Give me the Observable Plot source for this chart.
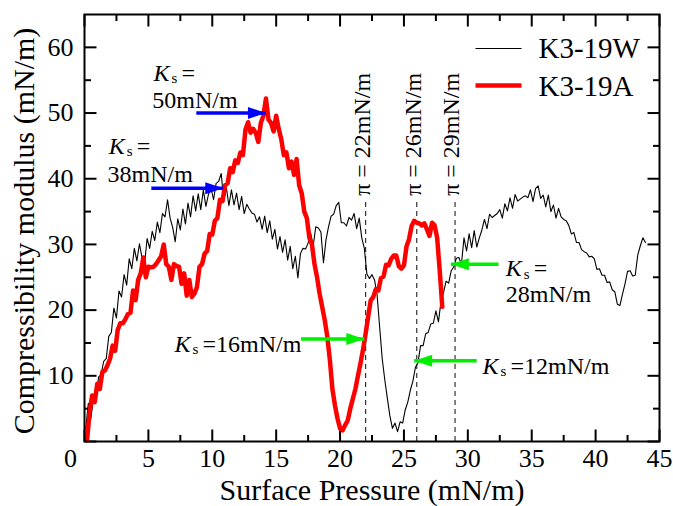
<!DOCTYPE html>
<html><head><meta charset="utf-8">
<script src="https://cdn.jsdelivr.net/npm/d3@7"></script>
<script src="https://cdn.jsdelivr.net/npm/@observablehq/plot@0.6"></script>
<style>body{margin:0;background:#fff} svg{display:block}</style>
</head><body><div id="chart"></div>
<script>
// ---------- data ----------
const seriesNames = ["K3-19W", "K3-19A"];

// K3-19W : sampled every 0.2 mN/m starting at 0.1
const wStart = 0.1, wStep = 0.2;
const wValues = [
  2.0,5.8,3.5,6.6,6.4,9.8,10.2,12.2,12.6,16.0,
  16.6,20.3,18.8,22.9,22.0,25.4,23.8,27.8,26.3,29.4,
  27.5,30.1,28.0,27.0,30.9,29.4,32.0,30.6,33.4,31.8,
  34.7,34.2,36.8,34.0,32.6,30.4,33.9,32.2,35.4,33.1,
  36.3,34.2,37.4,35.1,37.7,35.3,38.3,35.8,37.6,38.6,
  36.8,39.3,39.6,40.8,36.6,38.7,35.9,38.3,36.0,37.8,
  35.3,37.3,34.7,36.1,35.4,34.8,34.6,33.4,34.2,32.3,
  34.3,31.8,33.6,30.8,32.3,29.3,31.2,28.8,30.7,27.6,
  29.7,26.3,28.2,24.9,28.6,29.4,29.3,30.2,31.7,29.8,
  32.7,32.5,31.9,27.2,30.7,32.7,34.3,34.6,35.9,36.4,
  33.3,33.3,32.8,34.1,33.7,34.7,32.4,34.0,31.0,29.4,
  25.5,24.8,25.4,24.6,22.3,17.4,12.6,9.4,6.6,3.9,
  2.0,2.8,1.5,3.0,2.8,4.8,6.0,7.8,9.2,11.3,
  12.0,14.6,14.6,16.4,16.6,17.9,18.0,19.9,18.2,21.3,
  22.7,24.4,24.1,26.0,26.6,27.9,28.0,27.0,31.0,29.0,
  31.6,29.5,32.1,29.6,31.0,32.2,33.8,32.4,34.6,34.1,
  34.4,34.7,35.3,34.0,36.2,35.1,37.1,35.5,37.6,36.6,
  36.9,37.2,37.4,37.1,38.3,36.5,38.5,38.9,37.0,37.5,
  35.7,37.5,35.0,36.0,34.0,35.5,34.2,33.8,33.6,32.9,
  31.6,31.8,30.3,30.3,29.2,28.9,28.7,28.1,28.2,27.8,
  26.2,26.3,25.3,25.3,24.2,24.3,23.1,22.8,20.9,20.7,
  22.4,24.0,25.9,26.0,25.2,25.3,28.4,29.8,31.0,30.3
];

// K3-19A : sampled every 0.2 mN/m starting at 0.2
const aStart = 0.2, aStep = 0.2;
const aValues = [
  0.2,4.5,7.0,6.0,8.8,8.0,10.6,10.8,11.6,12.6,
  14.6,13.8,17.0,18.0,18.0,18.6,19.4,19.6,23.0,21.5,
  24.6,25.6,28.0,25.0,26.6,26.5,26.6,27.0,27.6,28.2,
  30.0,27.0,26.6,24.6,27.0,26.7,26.6,24.0,25.6,22.2,
  24.6,22.0,22.5,23.5,26.6,27.0,28.6,29.0,31.6,31.5,
  33.6,34.0,36.8,36.6,39.0,39.3,41.6,41.0,42.8,42.4,
  44.0,43.6,47.5,48.6,47.0,47.6,47.0,45.6,48.5,49.6,
  52.2,49.0,48.5,47.2,49.6,47.6,46.0,43.6,44.0,41.6,
  42.6,40.6,43.0,39.0,37.8,35.0,34.0,31.0,30.0,27.0,
  25.0,22.5,20.5,18.5,16.0,12.5,8.0,5.5,3.5,2.0,
  1.7,2.5,3.2,5.0,6.5,8.0,10.0,11.9,14.0,16.4,
  19.0,21.5,22.0,23.2,23.0,24.9,25.1,26.9,26.8,27.8,
  28.3,28.3,26.7,26.3,26.8,29.7,30.8,32.8,33.6,33.3,
  33.2,32.9,33.2,32.3,31.3,33.3,32.9,31.0,26.0,20.5
];

// axes
const xLabelTicks = [5, 10, 15, 20, 25, 30, 35, 40, 45];
const xOriginLabel = [0];
const xMajorTicks = [0, 5, 10, 15, 20, 25, 30, 35, 40, 45];
const xMinorTicks = [2.5, 7.5, 12.5, 17.5, 22.5, 27.5, 32.5, 37.5, 42.5];
const yLabelTicks = [10, 20, 30, 40, 50, 60];
const yMajorTicks = [0, 10, 20, 30, 40, 50, 60];
const yMinorTicks = [5, 15, 25, 35, 45, 55];
const xTitle = "Surface Pressure (mN/m)";
const yTitle = "Compressibility modulus (mN/m)";

// transition pressures
const piValues = [22, 26, 29];
const piLineTop = 37;
const piLabelY = 37.4;

// K_s annotations
const ksLabelX = [5.4, 1.9, 7.05, 31.15, 32.97];
const ksLabelY = [56.0, 45.0, 14.8, 11.5, 26.3];
const ksLabelRest = ["=", "=", "=16mN/m", "=12mN/m", "="];
const ksValueX = [5.3, 1.8, 32.97];
const ksValueY = [52.0, 40.7, 22.4];
const ksValueText = ["50mN/m", "38mN/m", "28mN/m"];

// arrows
const arrowX1 = [8.75, 5.23, 16.95, 30.7, 32.4];
const arrowX2 = [14.2, 10.86, 21.9, 25.8, 28.67];
const arrowY = [50.0, 38.55, 15.6, 12.3, 27.0];
const arrowKind = ["peak", "peak", "transition", "transition", "transition"];

// ---------- build ----------
const W = wValues.map((v, i) => ({x: +(wStart + i * wStep).toFixed(2), y: v}));
const A = aValues.map((v, i) => ({x: +(aStart + i * aStep).toFixed(2), y: v}));
const ksLabels = ksLabelX.map((x, i) => ({x, y: ksLabelY[i], rest: ksLabelRest[i]}));
const ksVals = ksValueX.map((x, i) => ({x, y: ksValueY[i], text: ksValueText[i]}));
const arrows = arrowX1.map((x1, i) => ({x1, x2: arrowX2[i], y: arrowY[i], kind: arrowKind[i]}));

const BLUE = "#0000ff", GREEN = "#00ee00", RED = "#ff0000";
const FONT = "'Liberation Serif', 'Times New Roman', serif";

const seg = (dx, dy) => ({draw(ctx) { ctx.moveTo(0, 0); ctx.lineTo(dx, dy); }});
const hline = (len) => ({draw(ctx) { ctx.moveTo(-len / 2, 0); ctx.lineTo(len / 2, 0); }});
const head = {draw(ctx) { ctx.moveTo(0, 0); ctx.lineTo(-18, -6); ctx.lineTo(-18, 6); ctx.closePath(); }};
const arrowColor = d => d.kind === "peak" ? BLUE : GREEN;

const tickMarks = (vals, dim, anchor, sym, w) =>
  Plot.dot(vals, {[dim]: d => d, frameAnchor: anchor, symbol: sym, stroke: "black", fill: "none", strokeWidth: w});

const chart = Plot.plot({
  width: 673, height: 506,
  marginLeft: 84, marginRight: 14, marginTop: 14, marginBottom: 65,
  x: {domain: [0, 45]},
  y: {domain: [0, 65]},
  style: {fontFamily: FONT, background: "white", color: "black"},
  marks: [
    Plot.axisX({ticks: xLabelTicks, tickSize: 0, tickPadding: 7, fontSize: 26, label: null, tickFormat: d => String(d)}),
    Plot.axisY({ticks: yLabelTicks, tickSize: 0, tickPadding: 11, fontSize: 26, label: null, tickFormat: d => String(d)}),
    Plot.text(xOriginLabel, {x: d => d, frameAnchor: "bottom", dx: -14, dy: 7, lineAnchor: "top", fontSize: 26, text: d => String(d)}),
    Plot.text([xTitle], {frameAnchor: "bottom", dy: 49, textAnchor: "middle", lineAnchor: "middle", fontSize: 30, text: d => d}),
    Plot.text([yTitle], {frameAnchor: "left", dx: -60, dy: 3, rotate: -90, textAnchor: "middle", lineAnchor: "middle", fontSize: 30, text: d => d}),

    // ticks (inward)
    tickMarks(xMajorTicks, "x", "bottom", seg(0, -12), 2),
    tickMarks(xMinorTicks, "x", "bottom", seg(0, -6.5), 2),
    tickMarks(xMajorTicks, "x", "top", seg(0, 12), 2),
    tickMarks(xMinorTicks, "x", "top", seg(0, 6.5), 2),
    tickMarks(yMajorTicks, "y", "left", seg(12, 0), 2),
    tickMarks(yMinorTicks, "y", "left", seg(6.5, 0), 2),
    tickMarks(yMajorTicks, "y", "right", seg(-12, 0), 2),
    tickMarks(yMinorTicks, "y", "right", seg(-6.5, 0), 2),

    // dashed transition lines
    Plot.ruleX(piValues, {x: d => d, y1: 0, y2: piLineTop, stroke: "#333", strokeWidth: 1.2, strokeDasharray: "5,4"}),
    Plot.text(piValues, {x: d => d, y: piLabelY, dx: -3.5, rotate: -90, textAnchor: "start", lineAnchor: "middle", fontSize: 24, text: d => `π = ${d}mN/m`}),

    // data
    Plot.line(W, {x: "x", y: "y", stroke: "black", strokeWidth: 1.1, strokeLinejoin: "round"}),
    Plot.line(A, {x: "x", y: "y", stroke: RED, strokeWidth: 4.5, strokeLinejoin: "round"}),

    // arrows
    Plot.link(arrows, {x1: "x1", x2: "x2", y1: "y", y2: "y", stroke: arrowColor, strokeWidth: 3.5}),
    Plot.dot(arrows, {x: "x2", y: "y", symbol: head, fill: arrowColor, stroke: "none", rotate: d => d.x2 > d.x1 ? 0 : 180}),

    // K_s labels
    Plot.text(ksLabels, {x: "x", y: "y", text: () => "K", fontStyle: "italic", textAnchor: "start", lineAnchor: "middle", fontSize: 24}),
    Plot.text(ksLabels, {x: "x", y: "y", text: () => "s", dx: 18, dy: 5, textAnchor: "start", lineAnchor: "middle", fontSize: 15}),
    Plot.text(ksLabels, {x: "x", y: "y", text: "rest", dx: 28, textAnchor: "start", lineAnchor: "middle", fontSize: 24}),
    Plot.text(ksVals, {x: "x", y: "y", text: "text", textAnchor: "start", lineAnchor: "middle", fontSize: 24}),

    // legend
    Plot.dot([seriesNames[0]], {frameAnchor: "top-right", dx: -161, dy: 34, symbol: hline(46), stroke: "black", fill: "none", strokeWidth: 1.2}),
    Plot.dot([seriesNames[1]], {frameAnchor: "top-right", dx: -161, dy: 71, symbol: hline(46), stroke: RED, fill: "none", strokeWidth: 4.5}),
    Plot.text([seriesNames[0]], {frameAnchor: "top-right", dx: -121, dy: 34, textAnchor: "start", lineAnchor: "middle", fontSize: 29, text: d => d}),
    Plot.text([seriesNames[1]], {frameAnchor: "top-right", dx: -121, dy: 72, textAnchor: "start", lineAnchor: "middle", fontSize: 29, text: d => d}),

    Plot.frame({stroke: "black", strokeWidth: 2})
  ]
});
document.getElementById("chart").append(chart);
</script>
</body></html>
